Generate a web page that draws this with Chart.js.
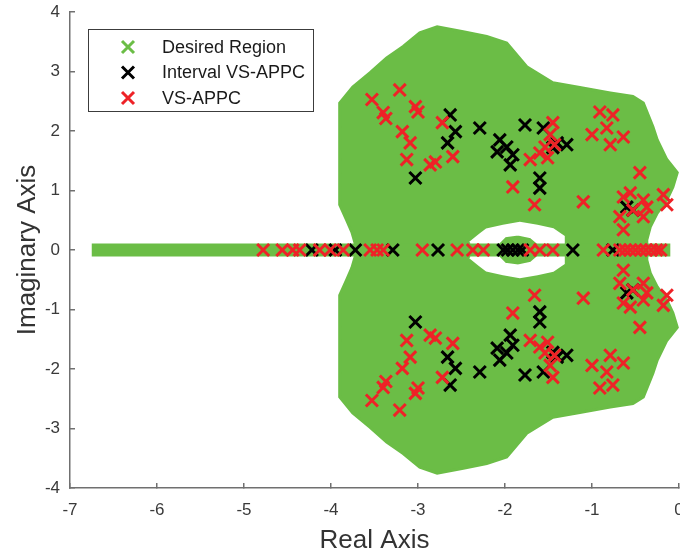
<!DOCTYPE html>
<html>
<head>
<meta charset="utf-8">
<script src="https://cdn.jsdelivr.net/npm/chart.js@4"></script>
<style>
  html, body { margin: 0; padding: 0; background: #fff; }
  #wrap { width: 680px; height: 554px; }
</style>
</head>
<body>
<div id="wrap"><canvas id="poleChart" width="680" height="554"></canvas></div>
<script>
// ---- data (real part, imaginary part) ----
const xTicks = [-7, -6, -5, -4, -3, -2, -1, 0];
const yTicks = [-4, -3, -2, -1, 0, 1, 2, 3, 4];
const legendLabels = ['Desired Region', 'Interval VS-APPC', 'VS-APPC'];

// outline of the desired region (closed loop)
const regionOutline = [
    [-3.70, 0.00], [-3.72, 0.10], [-3.76, 0.30], [-3.82, 0.50], [-3.90, 0.76], [-3.90, 1.60],
    [-3.90, 2.47], [-3.75, 2.74], [-3.55, 2.98], [-3.36, 3.23], [-3.17, 3.42], [-2.98, 3.65],
    [-2.78, 3.75], [-2.48, 3.67], [-2.21, 3.59], [-1.98, 3.48], [-1.75, 3.08], [-1.45, 2.81],
    [-1.14, 2.73], [-0.79, 2.64], [-0.53, 2.58], [-0.41, 2.47], [-0.30, 2.07], [-0.25, 1.85],
    [-0.14, 1.52], [-0.02, 1.30], [-0.07, 1.06], [-0.14, 0.84], [-0.25, 0.62], [-0.33, 0.39],
    [-0.37, 0.17], [-0.37, 0.00],
    [-0.37, -0.17], [-0.33, -0.39], [-0.25, -0.62], [-0.14, -0.84], [-0.07, -1.06], [-0.02, -1.30],
    [-0.14, -1.52], [-0.25, -1.85], [-0.30, -2.07], [-0.41, -2.47], [-0.53, -2.58], [-0.79, -2.64],
    [-1.14, -2.73], [-1.45, -2.81], [-1.75, -3.08], [-1.98, -3.48], [-2.21, -3.59], [-2.48, -3.67],
    [-2.78, -3.75], [-2.98, -3.65], [-3.17, -3.42], [-3.36, -3.23], [-3.55, -2.98], [-3.75, -2.74],
    [-3.90, -2.47], [-3.90, -1.60], [-3.90, -0.76], [-3.82, -0.50], [-3.76, -0.30], [-3.72, -0.10],
    [-3.70, 0.00]
];
// white gaps around -2 on the real axis
const holeUpper = [
    [-2.40, 0.12], [-2.29, 0.25], [-2.21, 0.34], [-2.02, 0.40], [-1.83, 0.45], [-1.63, 0.40],
    [-1.45, 0.34], [-1.33, 0.22], [-1.33, 0.12], [-1.62, 0.12], [-1.70, 0.22], [-1.85, 0.27],
    [-2.00, 0.24], [-2.08, 0.12], [-2.40, 0.12]
];
const holeLower = [
    [-2.40, -0.12], [-2.29, -0.25], [-2.21, -0.34], [-2.02, -0.40], [-1.83, -0.45], [-1.63, -0.40],
    [-1.45, -0.34], [-1.33, -0.22], [-1.33, -0.12], [-1.62, -0.12], [-1.70, -0.22], [-1.85, -0.27],
    [-2.00, -0.24], [-2.08, -0.12], [-2.40, -0.12]
];
// green run of desired poles along the real axis
const realAxisRun = [[-6.75, 0], [-0.10, 0]];

// Interval VS-APPC poles
const intervalPoles = [
    [-2.63, 2.27], [-2.57, 1.99], [-2.66, 1.80], [-2.29, 2.05], [-3.03, 1.21], [-1.77, 2.10],
    [-2.06, 1.85], [-2.09, 1.65], [-1.98, 1.73], [-1.91, 1.60], [-1.94, 1.43], [-1.56, 2.05],
    [-1.40, 1.80], [-1.29, 1.77], [-1.45, 1.72], [-1.60, 1.21], [-1.60, 1.04], [-0.60, 0.72],
    [-0.53, 0.67],
    [-2.63, -2.27], [-2.57, -1.99], [-2.66, -1.80], [-2.29, -2.05], [-3.03, -1.21], [-1.77, -2.10],
    [-2.06, -1.85], [-2.09, -1.65], [-1.98, -1.73], [-1.91, -1.60], [-1.94, -1.43], [-1.56, -2.05],
    [-1.40, -1.80], [-1.29, -1.77], [-1.45, -1.72], [-1.60, -1.21], [-1.60, -1.04], [-0.60, -0.72],
    [-0.53, -0.67],
    [-4.22, 0], [-3.95, 0], [-3.72, 0], [-3.29, 0], [-2.77, 0], [-2.02, 0], [-1.97, 0], [-1.91, 0],
    [-1.85, 0], [-1.80, 0], [-1.22, 0], [-0.76, 0]
];

// VS-APPC poles
const vsAppcPoles = [
    [-3.53, 2.53], [-3.21, 2.69], [-3.40, 2.31], [-3.37, 2.21], [-3.03, 2.41], [-3.00, 2.32],
    [-3.18, 1.99], [-3.09, 1.80], [-3.13, 1.52], [-2.86, 1.43], [-2.80, 1.48], [-2.72, 2.14],
    [-2.60, 1.57], [-1.91, 1.06], [-1.66, 0.76], [-1.71, 1.52], [-1.60, 1.63], [-1.54, 1.73],
    [-1.51, 1.55], [-1.45, 2.14], [-1.48, 1.94], [-1.43, 1.77], [-0.91, 2.32], [-0.76, 2.27],
    [-0.83, 2.05], [-1.00, 1.94], [-0.64, 1.90], [-0.79, 1.77], [-0.45, 1.30], [-1.10, 0.81],
    [-0.56, 0.96], [-0.64, 0.89], [-0.41, 0.84], [-0.18, 0.93], [-0.14, 0.76], [-0.37, 0.72],
    [-0.53, 0.67], [-0.68, 0.56], [-0.41, 0.56], [-0.64, 0.34],
    [-3.53, -2.53], [-3.21, -2.69], [-3.40, -2.31], [-3.37, -2.21], [-3.03, -2.41], [-3.00, -2.32],
    [-3.18, -1.99], [-3.09, -1.80], [-3.13, -1.52], [-2.86, -1.43], [-2.80, -1.48], [-2.72, -2.14],
    [-2.60, -1.57], [-1.91, -1.06], [-1.66, -0.76], [-1.71, -1.52], [-1.60, -1.63], [-1.54, -1.73],
    [-1.51, -1.55], [-1.45, -2.14], [-1.48, -1.94], [-1.43, -1.77], [-0.91, -2.32], [-0.76, -2.27],
    [-0.83, -2.05], [-1.00, -1.94], [-0.64, -1.90], [-0.79, -1.77], [-0.45, -1.30], [-1.10, -0.81],
    [-0.56, -0.96], [-0.64, -0.89], [-0.41, -0.84], [-0.18, -0.93], [-0.14, -0.76], [-0.37, -0.72],
    [-0.53, -0.67], [-0.68, -0.56], [-0.41, -0.56], [-0.64, -0.34],
    [-4.78, 0], [-4.56, 0], [-4.44, 0], [-4.36, 0], [-4.13, 0], [-4.01, 0], [-3.86, 0], [-3.55, 0],
    [-3.47, 0], [-3.40, 0], [-2.95, 0], [-2.55, 0], [-2.37, 0], [-2.25, 0], [-1.71, 0], [-1.60, 0],
    [-1.45, 0], [-0.87, 0], [-0.68, 0], [-0.62, 0], [-0.56, 0], [-0.50, 0], [-0.44, 0], [-0.38, 0],
    [-0.32, 0], [-0.26, 0], [-0.21, 0]
];

const GREEN = '#6bbd46';
const RED = '#ee2227';
const AXIS = '#707070';
const FONT = "'Liberation Sans', Arial, sans-serif";

const toXY = arr => arr.map(p => ({ x: p[0], y: p[1] }));

function markerSet(points, color) {
    return {
        type: 'scatter',
        data: toXY(points),
        pointStyle: 'crossRot',
        pointRadius: 8.5,
        pointHoverRadius: 8.5,
        borderColor: color,
        backgroundColor: color,
        pointBorderWidth: 3,
        showLine: false
    };
}

function shapeSet(points, color) {
    return {
        type: 'line',
        data: toXY(points),
        borderColor: color,
        backgroundColor: color,
        borderWidth: 3,
        pointRadius: 0,
        fill: 'shape',
        tension: 0
    };
}

// legend drawn inside the plot like the MATLAB box
const boxLegend = {
    id: 'boxLegend',
    afterDraw(chart) {
        const ctx = chart.ctx;
        const colors = [GREEN, '#000', RED];
        ctx.save();
        ctx.fillStyle = '#fff';
        ctx.fillRect(88, 29, 225, 82);
        ctx.strokeStyle = '#3c3c3c';
        ctx.lineWidth = 1;
        ctx.strokeRect(88.5, 29.5, 225, 82);
        ctx.font = '18px ' + FONT;
        ctx.textBaseline = 'middle';
        legendLabels.forEach((label, i) => {
            const cy = 47 + i * 25.5;
            const cx = 128;
            ctx.strokeStyle = colors[i];
            ctx.lineWidth = 3;
            ctx.beginPath();
            ctx.moveTo(cx - 6, cy - 6); ctx.lineTo(cx + 6, cy + 6);
            ctx.moveTo(cx + 6, cy - 6); ctx.lineTo(cx - 6, cy + 6);
            ctx.stroke();
            ctx.fillStyle = '#1a1a1a';
            ctx.fillText(label, 162, cy + 1);
        });
        ctx.restore();
    }
};

document.addEventListener('DOMContentLoaded', function() {
    const ctx = document.getElementById('poleChart').getContext('2d');

    new Chart(ctx, {
        type: 'scatter',
        data: {
            datasets: [
                markerSet(vsAppcPoles, RED),
                markerSet(intervalPoles, '#000'),
                {
                    type: 'line',
                    data: toXY(realAxisRun),
                    borderColor: GREEN,
                    borderWidth: 13,
                    borderCapStyle: 'butt',
                    pointRadius: 0,
                    fill: false
                },
                shapeSet(holeUpper, '#fff'),
                shapeSet(holeLower, '#fff'),
                shapeSet(regionOutline, GREEN)
            ]
        },
        options: {
            responsive: false,
            animation: false,
            events: [],
            layout: { autoPadding: false, padding: { top: 12, right: 1, left: 0, bottom: 0 } },
            plugins: {
                legend: { display: false },
                tooltip: { enabled: false }
            },
            scales: {
                x: {
                    type: 'linear',
                    min: -7,
                    max: 0,
                    afterBuildTicks: scale => { scale.ticks = xTicks.map(v => ({ value: v })); },
                    afterFit: scale => {
                        scale.height = 66;
                        scale.paddingLeft = 0;
                        scale.paddingRight = 0;
                    },
                    ticks: {
                        color: '#3a3a3a',
                        font: { family: FONT, size: 17 },
                        padding: 17,
                        maxRotation: 0
                    },
                    grid: { drawOnChartArea: false, tickLength: -5, color: AXIS, lineWidth: 1.5 },
                    border: { display: true, color: AXIS, width: 1.5 },
                    title: {
                        display: true,
                        text: 'Real Axis',
                        color: '#333',
                        font: { family: FONT, size: 26, lineHeight: 1 },
                        padding: { top: 0, bottom: 0 }
                    }
                },
                y: {
                    type: 'linear',
                    min: -4,
                    max: 4,
                    afterBuildTicks: scale => { scale.ticks = yTicks.map(v => ({ value: v })); },
                    afterFit: scale => {
                        scale.width = 70;
                        scale.paddingTop = 0;
                        scale.paddingBottom = 0;
                    },
                    ticks: {
                        color: '#3a3a3a',
                        font: { family: FONT, size: 17 },
                        padding: 15
                    },
                    grid: { drawOnChartArea: false, tickLength: -5, color: AXIS, lineWidth: 1.5 },
                    border: { display: true, color: AXIS, width: 1.5 },
                    title: {
                        display: true,
                        text: 'Imaginary Axis',
                        color: '#333',
                        font: { family: FONT, size: 26, lineHeight: 1 },
                        padding: { top: 15, bottom: 0 }
                    }
                }
            }
        },
        plugins: [boxLegend]
    });
});
</script>
</body>
</html>
